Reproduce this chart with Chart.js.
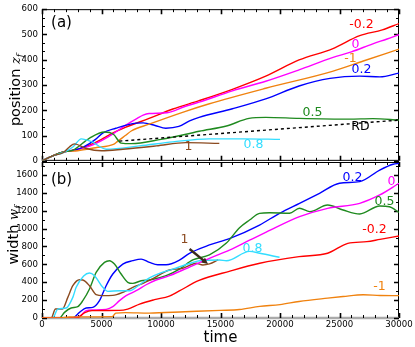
<!DOCTYPE html>
<html>
<head>
<meta charset="UTF-8">
<script src="https://cdn.jsdelivr.net/npm/chart.js"></script>
<style>
  body { margin: 0; background: #fff; }
  .wrap { position: relative; width: 415px; height: 347px; }
  .box { position: absolute; left: 0; width: 415px; }
  #boxA { top: 0; height: 170px; }
  #boxB { top: 150px; height: 197px; }
</style>
</head>
<body>
<div class="wrap">
  <div class="box" id="boxA"><canvas id="chartA"></canvas></div>
  <div class="box" id="boxB"><canvas id="chartB"></canvas></div>
</div>
<script>
// ---- panel (a): front position z_f vs time ----
const tA_red = [0, 900, 1800, 3000, 4000, 5000, 5700, 7000, 9000, 11000, 13200, 16000, 18800, 21600, 24400, 26700, 28600, 30000];
const vA_red = [0, 20, 35, 45, 62, 85, 104, 132, 168, 205, 238, 283, 335, 399, 443, 495, 518, 543];
const tA_mag = [0, 900, 1800, 3000, 4000, 5000, 6000, 7000, 8000, 8500, 9000, 10500, 12000, 13200, 16000, 18800, 21600, 24400, 26000, 27800, 29000, 30000];
const vA_mag = [0, 20, 35, 45, 58, 80, 108, 140, 168, 181, 187, 190, 215, 232, 277, 315, 360, 408, 431, 463, 482, 499];
const tA_org = [0, 900, 1800, 3000, 4500, 6000, 6300, 7000, 7500, 9000, 12000, 14000, 18800, 24400, 27000, 30000];
const vA_org = [0, 20, 35, 40, 52, 65, 75, 100, 118, 145, 195, 225, 287, 354, 395, 442];
const tA_blu = [0, 900, 1800, 2500, 3500, 4500, 5100, 6200, 7900, 8500, 9500, 10400, 11500, 12400, 13200, 16000, 18800, 21600, 24200, 26700, 28400, 30000];
const vA_blu = [0, 20, 35, 40, 55, 85, 110, 129, 149, 150, 140, 129, 136, 158, 172, 206, 245, 296, 326, 335, 332, 347];
const tA_grn = [0, 900, 1800, 2600, 4000, 5250, 6000, 6650, 7500, 10000, 12200, 13200, 15500, 17400, 18800, 21600, 25800, 27800, 30000];
const vA_grn = [0, 20, 35, 42, 90, 114, 105, 70, 68, 85, 106, 117, 138, 168, 172, 168, 165, 167, 161];
const tA_cyn = [0, 900, 1800, 2600, 3300, 4200, 5400, 8200, 11000, 14000, 17000, 20000];
const vA_cyn = [0, 20, 33, 55, 87, 75, 46, 59, 75, 87, 87, 85];
const tA_brn = [0, 900, 1800, 2300, 2730, 3710, 5000, 6800, 9600, 12100, 14900];
const vA_brn = [0, 20, 33, 55, 67, 49, 40, 46, 59, 72, 69];
const tA_rd = [6500, 30000];
const vA_rd = [78, 161];

// ---- panel (b): front width w_f vs time ----
const tB_red = [0, 2900, 3600, 4200, 6500, 7200, 8200, 9450, 10700, 11500, 13200, 15800, 18300, 21600, 24000, 25700, 27300, 28400, 30000];
const vB_red = [0, 0, 60, 82, 85, 100, 156, 205, 245, 300, 420, 525, 612, 686, 724, 835, 854, 880, 917];
const tB_org = [0, 1500, 2300, 5900, 6200, 7000, 9000, 12000, 15000, 16600, 18300, 20000, 21600, 24000, 25300, 27000, 28400, 30000];
const vB_org = [0, 0, 12, 15, 55, 60, 55, 70, 85, 95, 130, 150, 185, 222, 240, 260, 252, 250];
const tB_blu = [0, 2590, 3150, 3710, 4270, 4830, 5390, 5950, 6790, 7630, 8330, 9030, 9730, 10430, 11550, 12390, 14070, 15800, 18280, 19960, 21640, 23320, 25000, 26700, 28380, 29500, 30000];
const vB_blu = [0, 0, 63, 112, 119, 194, 361, 492, 603, 641, 659, 622, 596, 596, 648, 724, 817, 891, 1040, 1171, 1283, 1395, 1507, 1525, 1655, 1720, 1730];
const tB_mag = [0, 2450, 3200, 3710, 4270, 5390, 5950, 6510, 7070, 7910, 8750, 9590, 10710, 11830, 14070, 15750, 17440, 18840, 21640, 24000, 26700, 28380, 30000];
const vB_mag = [0, 0, 20, 82, 90, 97, 127, 194, 250, 305, 372, 425, 473, 537, 668, 760, 870, 960, 1133, 1227, 1283, 1376, 1507];
const tB_grn = [0, 1470, 1890, 2450, 3010, 3430, 3990, 4550, 5250, 5670, 6090, 6650, 7210, 7630, 8330, 9030, 10430, 11550, 12670, 14070, 15470, 16600, 17440, 18280, 19120, 20800, 21640, 22500, 24000, 25300, 26700, 28380, 29200, 30000];
const vB_grn = [0, 0, 63, 112, 127, 194, 324, 510, 622, 641, 603, 492, 399, 387, 417, 425, 473, 547, 649, 705, 835, 1010, 1096, 1171, 1178, 1171, 1227, 1190, 1264, 1208, 1164, 1253, 1245, 1180];
const tB_cyn = [0, 900, 1330, 2030, 2590, 2870, 3500, 3990, 4410, 5110, 5530, 6510, 7350, 8190, 9030, 9870, 10990, 12400, 13235, 14915, 15500, 17440, 18300, 19960];
const vB_cyn = [0, 0, 100, 112, 231, 343, 470, 503, 473, 343, 298, 305, 305, 372, 450, 500, 547, 610, 640, 649, 640, 745, 724, 679];
const tB_brn = [0, 770, 1134, 1700, 2170, 2590, 3150, 3430, 3990, 4550, 5110, 5950, 6790, 7630, 8330, 9030, 10710, 11830, 12950, 13510, 14070, 14800];
const vB_brn = [0, 0, 100, 100, 231, 361, 428, 425, 361, 261, 250, 253, 287, 343, 380, 420, 537, 556, 612, 593, 605, 649];

// ---- ticks ----
const xTicks = [0, 5000, 10000, 15000, 20000, 25000, 30000];
const yTicksA = [0, 100, 200, 300, 400, 500, 600];
const yTicksB = [0, 200, 400, 600, 800, 1000, 1200, 1400, 1600];

const RED = '#ff0000', MAG = '#ff00ff', ORG = '#f0820f', BLU = '#0000ff',
      GRN = '#1f8a1f', CYN = '#33ddff', BRN = '#8b4a1f';

const pts = (ts, vs) => ts.map((t, i) => ({ x: t, y: vs[i] }));
const line = (ts, vs, color, extra) => Object.assign({
  data: pts(ts, vs), borderColor: color, borderWidth: 1.4, pointRadius: 0,
  cubicInterpolationMode: 'monotone', fill: false
}, extra || {});

// frame with inward ticks, series labels, axis title
function panelPlugin(cfg) {
  return {
    id: 'panel',
    beforeDatasetsDraw(chart) {
      const { ctx, chartArea: a, scales } = chart;
      const xs = scales.x, ys = scales.y;
      ctx.save();
      ctx.strokeStyle = '#000';
      ctx.lineWidth = 1;
      ctx.strokeRect(a.left + 0.5, a.top + 0.5, a.right - a.left - 1, a.bottom - a.top - 1);
      if (cfg.zeroAxis) {
        ctx.strokeStyle = '#aaaaaa';
        ctx.lineWidth = 2.5;
        const y0 = ys.getPixelForValue(0);
        ctx.beginPath(); ctx.moveTo(a.left, y0); ctx.lineTo(a.right, y0); ctx.stroke();
      }
      ctx.strokeStyle = '#000';
      for (let t = 0; t <= 30000; t += 1000) {
        const px = Math.round(xs.getPixelForValue(t)) + 0.5;
        const major = t % 5000 === 0;
        const len = major ? 5 : 3;
        ctx.lineWidth = major ? 1.6 : 1;
        ctx.beginPath();
        ctx.moveTo(px, a.bottom); ctx.lineTo(px, a.bottom - len);
        ctx.moveTo(px, a.top); ctx.lineTo(px, a.top + len);
        ctx.stroke();
      }
      for (let v = 0; v <= cfg.yMax + 0.01; v += cfg.yMinor) {
        const py = Math.round(ys.getPixelForValue(v)) + 0.5;
        if (py < a.top) continue;
        const major = cfg.yMajor.some(m => Math.abs(m - v) < 0.01);
        const len = major ? 5 : 3;
        ctx.lineWidth = major ? 1.4 : 1;
        ctx.beginPath();
        ctx.moveTo(a.left, py); ctx.lineTo(a.left + len, py);
        ctx.moveTo(a.right, py); ctx.lineTo(a.right - len, py);
        ctx.stroke();
      }
      ctx.restore();
    },
    afterDatasetsDraw(chart) {
      const { ctx, scales } = chart;
      const xs = scales.x, ys = scales.y;
      ctx.save();
      ctx.textAlign = 'center';
      ctx.textBaseline = 'middle';
      ctx.fillStyle = '#000';
      ctx.font = '15px "DejaVu Sans"';
      ctx.fillText(cfg.tag, xs.getPixelForValue(cfg.tagAt[0]), ys.getPixelForValue(cfg.tagAt[1]));
      ctx.font = '12.5px "DejaVu Sans"';
      cfg.labels.forEach(l => {
        ctx.fillStyle = l.color;
        ctx.fillText(l.text, xs.getPixelForValue(l.t), ys.getPixelForValue(l.v));
      });
      if (cfg.arrow) {
        const [t0, v0, t1, v1] = cfg.arrow;
        const x0 = xs.getPixelForValue(t0), y0 = ys.getPixelForValue(v0);
        const x1 = xs.getPixelForValue(t1), y1 = ys.getPixelForValue(v1);
        const ang = Math.atan2(y1 - y0, x1 - x0);
        ctx.strokeStyle = '#3a2a1a';
        ctx.fillStyle = '#3a2a1a';
        ctx.lineWidth = 2.4;
        ctx.beginPath(); ctx.moveTo(x0, y0);
        ctx.lineTo(x1 - 5 * Math.cos(ang), y1 - 5 * Math.sin(ang)); ctx.stroke();
        ctx.beginPath();
        ctx.moveTo(x1, y1);
        ctx.lineTo(x1 - 7 * Math.cos(ang - 0.45), y1 - 7 * Math.sin(ang - 0.45));
        ctx.lineTo(x1 - 7 * Math.cos(ang + 0.45), y1 - 7 * Math.sin(ang + 0.45));
        ctx.closePath(); ctx.fill();
      }
      // rotated y title with italic subscripted symbol
      ctx.translate(cfg.titleX, cfg.titleY);
      ctx.rotate(-Math.PI / 2);
      ctx.fillStyle = '#000';
      ctx.textAlign = 'left';
      ctx.textBaseline = 'alphabetic';
      const f1 = '14.5px "DejaVu Sans"', f2 = 'italic 13px "DejaVu Serif"', f3 = 'italic 9px "DejaVu Serif"';
      ctx.font = f1; const w1 = ctx.measureText(cfg.title + ' ').width;
      ctx.font = f2; const w2 = ctx.measureText(cfg.sym).width;
      ctx.font = f3; const w3 = ctx.measureText('f').width;
      let x = -(w1 + w2 + w3) / 2;
      ctx.font = f1; ctx.fillText(cfg.title + ' ', x, 5); x += w1;
      ctx.font = f2; ctx.fillText(cfg.sym, x, 5); x += w2;
      ctx.font = f3; ctx.fillText('f', x, 8);
      ctx.restore();
    }
  };
}

Chart.defaults.font.family = '"DejaVu Sans"';
Chart.defaults.color = '#000';

const axisY = (max, ticks) => ({
  min: 0, max: max,
  afterBuildTicks: s => { s.ticks = ticks.map(v => ({ value: v })); },
  afterFit: s => { s.width = 42; },
  grid: { display: false, drawTicks: false },
  border: { display: false },
  ticks: { font: { size: 8.6 }, padding: 4, callback: v => String(v) }
});

new Chart(document.getElementById('chartA'), {
  type: 'line',
  data: {
    datasets: [
      line(tA_rd, vA_rd, '#000', { borderDash: [3, 3], cubicInterpolationMode: 'default', tension: 0 }),
      line(tA_brn, vA_brn, BRN),
      line(tA_cyn, vA_cyn, CYN),
      line(tA_grn, vA_grn, GRN),
      line(tA_org, vA_org, ORG),
      line(tA_blu, vA_blu, BLU),
      line(tA_mag, vA_mag, MAG),
      line(tA_red, vA_red, RED)
    ]
  },
  options: {
    responsive: true, maintainAspectRatio: false, animation: false,
    layout: { padding: { top: 6, right: 16, bottom: 8, left: 0 } },
    plugins: { legend: { display: false }, tooltip: { enabled: false } },
    scales: {
      x: { type: 'linear', min: 0, max: 30000, display: false },
      y: axisY(600, yTicksA)
    }
  },
  plugins: [panelPlugin({
    yMax: 600, yMinor: 100 / 3, yMajor: yTicksA,
    tag: '(a)', tagAt: [1640, 546],
    title: 'position', sym: 'z', titleX: 15, titleY: 90,
    labels: [
      { text: '-0.2', t: 26850, v: 538, color: RED },
      { text: '0', t: 26340, v: 458, color: MAG },
      { text: '-1', t: 25920, v: 404, color: ORG },
      { text: '0.2', t: 26850, v: 362, color: BLU },
      { text: '0.5', t: 22730, v: 192, color: GRN },
      { text: 'RD', t: 26760, v: 135, color: '#000' },
      { text: '0.8', t: 17770, v: 62, color: CYN },
      { text: '1', t: 12310, v: 54, color: BRN }
    ]
  })]
});

new Chart(document.getElementById('chartB'), {
  type: 'line',
  data: {
    datasets: [
      line(tB_org, vB_org, ORG),
      line(tB_red, vB_red, RED),
      line(tB_mag, vB_mag, MAG),
      line(tB_cyn, vB_cyn, CYN),
      line(tB_brn, vB_brn, BRN),
      line(tB_grn, vB_grn, GRN),
      line(tB_blu, vB_blu, BLU)
    ]
  },
  options: {
    responsive: true, maintainAspectRatio: false, animation: false,
    layout: { padding: { top: 12, right: 16, bottom: 0, left: 0 } },
    plugins: { legend: { display: false }, tooltip: { enabled: false } },
    scales: {
      x: {
        type: 'linear', min: 0, max: 30000,
        afterBuildTicks: s => { s.ticks = xTicks.map(v => ({ value: v })); },
        afterFit: s => { s.height = 29; },
        grid: { display: false, drawTicks: false },
        border: { display: false },
        ticks: { font: { size: 8.6 }, padding: 2, maxRotation: 0, callback: v => String(v) },
        title: { display: true, text: 'time', font: { size: 15 }, padding: 0 }
      },
      y: axisY(1745, yTicksB)
    }
  },
  plugins: [panelPlugin({
    yMax: 1745, yMinor: 100, yMajor: yTicksB, zeroAxis: true,
    tag: '(b)', tagAt: [1640, 1544],
    title: 'width', sym: 'w', titleX: 13, titleY: 85,
    labels: [
      { text: '0.2', t: 26090, v: 1566, color: BLU },
      { text: '0', t: 29370, v: 1521, color: MAG },
      { text: '0.5', t: 28780, v: 1298, color: GRN },
      { text: '-0.2', t: 27940, v: 984, color: RED },
      { text: '0.8', t: 17690, v: 772, color: CYN },
      { text: '1', t: 11970, v: 872, color: BRN },
      { text: '-1', t: 28360, v: 347, color: ORG }
    ],
    arrow: [12400, 772, 13950, 604]
  })]
});
</script>
</body>
</html>
